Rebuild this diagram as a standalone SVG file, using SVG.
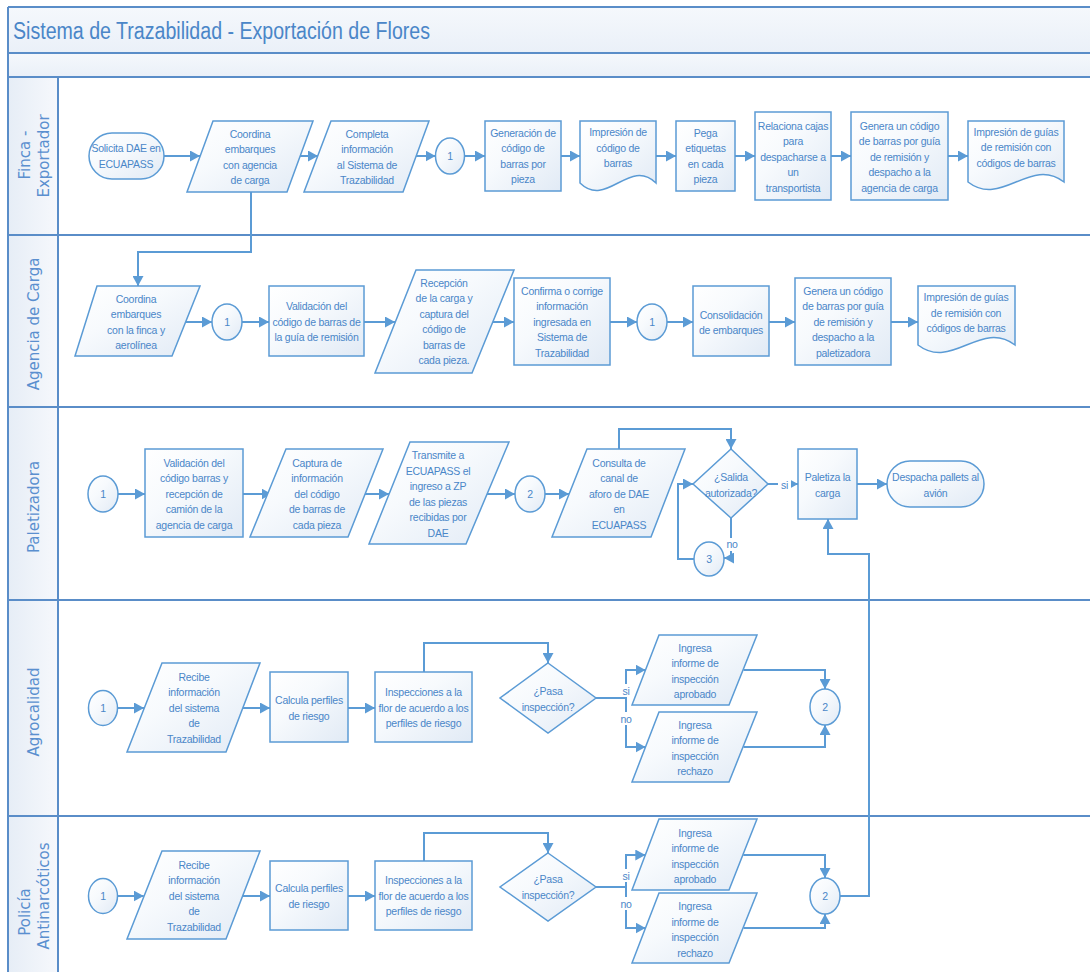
<svg xmlns="http://www.w3.org/2000/svg" width="1090" height="972" viewBox="0 0 1090 972">
<defs>
<linearGradient id="g" x1="0" y1="0" x2="1" y2="1"><stop offset="0" stop-color="#ffffff"/><stop offset="0.4" stop-color="#f7fafd"/><stop offset="1" stop-color="#e1eaf5"/></linearGradient>
<linearGradient id="lg" x1="0" y1="0" x2="1" y2="0"><stop offset="0" stop-color="#e6edf6"/><stop offset="1" stop-color="#f6f8fc"/></linearGradient>
<linearGradient id="hg" x1="0" y1="0" x2="0" y2="1"><stop offset="0" stop-color="#f5f8fc"/><stop offset="1" stop-color="#eaf0f8"/></linearGradient>
<marker id="arr" viewBox="0 0 10 10" refX="10" refY="5" markerWidth="10" markerHeight="11" markerUnits="userSpaceOnUse" orient="auto" preserveAspectRatio="none"><path d="M0,0 L10,5 L0,10 z" fill="#5b9bd5"/></marker>
<style>
.s{fill:url(#g);stroke:#5b9bd5;stroke-width:1.5}
.t{font-family:"Liberation Sans",Arial,sans-serif;font-size:10.5px;fill:#4a86c8;text-anchor:middle;letter-spacing:-0.25px}
.c{fill:none;stroke:#5b9bd5;stroke-width:2;marker-end:url(#arr)}
.l{fill:none;stroke:#5b9bd5;stroke-width:2}
.ln{stroke:#5a8dc8;stroke-width:2;fill:none}
.lt{font-family:"DejaVu Sans",Verdana,sans-serif;font-size:15px;fill:#5a8fcf;text-anchor:middle}
.bg{fill:#ffffff}
</style>
</defs>
<rect x="0" y="0" width="1090" height="972" fill="#ffffff"/>
<g id="frame">
<rect x="8" y="7" width="1082" height="46" fill="url(#hg)"/>
<rect x="8" y="53" width="1082" height="24" fill="url(#hg)"/>
<rect x="8" y="77" width="50" height="895" fill="url(#lg)"/>
<path class="ln" d="M8,7 H1090 M8,53 H1090 M8,77 H1090 M8,235 H1090 M8,407 H1090 M8,600 H1090 M8,816 H1090 M8,7 V972 M58,77 V972"/>
<text x="13" y="39" font-family="Liberation Sans,Arial,sans-serif" font-size="23" fill="#4a86c8" textLength="417" lengthAdjust="spacingAndGlyphs">Sistema de Trazabilidad - Exportación de Flores</text>
</g>
<g id="lane-labels">
<text class="lt" transform="translate(30,155) rotate(-90)">Finca -</text>
<text class="lt" transform="translate(49,156) rotate(-90)">Exportador</text>
<text class="lt" transform="translate(39,324) rotate(-90)">Agencia de Carga</text>
<text class="lt" transform="translate(39,507) rotate(-90)">Paletizadora</text>
<text class="lt" transform="translate(39,712) rotate(-90)">Agrocalidad</text>
<text class="lt" transform="translate(30,912) rotate(-90)">Policía</text>
<text class="lt" transform="translate(49,896) rotate(-90)">Antinarcóticos</text>
</g>
<g id="connectors">
<path class="c" d="M164,156 H200"/>
<path class="c" d="M300,156 H318"/>
<path class="c" d="M416,156 H435.5"/>
<path class="c" d="M464.5,156 H485"/>
<path class="c" d="M561,156 H580"/>
<path class="c" d="M656,156 H676"/>
<path class="c" d="M735,156 H755"/>
<path class="c" d="M831,156 H851"/>
<path class="c" d="M948,156 H968"/>
<path class="c" d="M251,192 V252 H138 V286"/>
<path class="c" d="M185.6,322 H212"/>
<path class="c" d="M242,322 H269"/>
<path class="c" d="M364,322 H395"/>
<path class="c" d="M493,322 H514"/>
<path class="c" d="M610,322 H637"/>
<path class="c" d="M667,322 H693"/>
<path class="c" d="M769,322 H795"/>
<path class="c" d="M891,322 H918"/>
<path class="c" d="M118,494 H145"/>
<path class="c" d="M243,494 H271.6"/>
<path class="c" d="M364.6,494 H389"/>
<path class="c" d="M487,494 H515"/>
<path class="c" d="M545,494 H569"/>
<path class="c" d="M619,449 V429 H731 V449"/>
<path class="c" d="M768,484 H798"/>
<path class="c" d="M857,484 H887"/>
<path class="c" d="M731,518 V558 H724"/>
<path class="c" d="M694,559 H678 V484 H693"/>
<path class="c" d="M840,896 H869 V554 H828 V519"/>
<path class="c" d="M118,708 H144"/>
<path class="c" d="M242.3,708 H270"/>
<path class="c" d="M348,708 H375"/>
<path class="c" d="M424,672 V643 H548 V663"/>
<path class="l" d="M596,698 H626"/>
<path class="c" d="M626,698 V670 H645.5"/>
<path class="c" d="M626,698 V747 H645.5"/>
<path class="c" d="M743.5,670 H825 V689"/>
<path class="c" d="M743.5,747 H825 V725"/>
<path class="c" d="M118,896 H143.7"/>
<path class="c" d="M241.7,896 H270"/>
<path class="c" d="M348,896 H375"/>
<path class="c" d="M424,861 V833 H548 V853"/>
<path class="l" d="M596,887 H626"/>
<path class="c" d="M626,887 V855 H645.3"/>
<path class="c" d="M626,887 V928 H645.5"/>
<path class="c" d="M743.3,855 H825 V878"/>
<path class="c" d="M743.5,928 H825 V914"/>
<rect class="bg" x="778" y="478" width="13" height="13"/>
<text class="t" x="784.5" y="488.5">si</text>
<rect class="bg" x="725" y="538" width="14" height="13"/>
<text class="t" x="732" y="548">no</text>
<rect class="bg" x="620" y="684" width="12" height="13"/>
<text class="t" x="626" y="694.5">si</text>
<rect class="bg" x="618" y="712" width="16" height="13"/>
<text class="t" x="626" y="722.5">no</text>
<rect class="bg" x="620" y="869" width="12" height="13"/>
<text class="t" x="626" y="879.5">si</text>
<rect class="bg" x="618" y="897" width="16" height="13"/>
<text class="t" x="626" y="907.5">no</text>
</g>
<g id="n-solicita"><rect class="s" x="89" y="133" width="75" height="46" rx="23"/><text class="t" y="152"><tspan x="126">Solicita DAE en</tspan><tspan x="126" dy="15.5">ECUAPASS</tspan></text></g>
<g id="n-coordina1"><polygon class="s" points="213,121 313,121 287,192 187,192"/><text class="t" y="137.5"><tspan x="250">Coordina</tspan><tspan x="250" dy="15.5">embarques</tspan><tspan x="250" dy="15.5">con agencia</tspan><tspan x="250" dy="15.5">de carga</tspan></text></g>
<g id="n-completa"><polygon class="s" points="331,121 429,121 403,192 304,192"/><text class="t" y="137.5"><tspan x="367">Completa</tspan><tspan x="367" dy="15.5">información</tspan><tspan x="367" dy="15.5">al Sistema de</tspan><tspan x="367" dy="15.5">Trazabilidad</tspan></text></g>
<g id="n-c1a"><ellipse class="s" cx="450" cy="156" rx="14.5" ry="18"/><text class="t" x="450" y="160">1</text></g>
<g id="n-generacion"><rect class="s" x="485" y="121" width="76" height="70"/><text class="t" y="136.5"><tspan x="523">Generación de</tspan><tspan x="523" dy="15.5">código de</tspan><tspan x="523" dy="15.5">barras por</tspan><tspan x="523" dy="15.5">pieza</tspan></text></g>
<g id="n-impresion1"><path class="s" d="M580,121 H656 V183 C629.4,157 606.6,209 580,183 Z"/><text class="t" y="136.3"><tspan x="618">Impresión de</tspan><tspan x="618" dy="15.5">código de</tspan><tspan x="618" dy="15.5">barras</tspan></text></g>
<g id="n-pega"><rect class="s" x="676" y="121" width="59" height="70"/><text class="t" y="136.5"><tspan x="705.5">Pega</tspan><tspan x="705.5" dy="15.5">etiquetas</tspan><tspan x="705.5" dy="15.5">en cada</tspan><tspan x="705.5" dy="15.5">pieza</tspan></text></g>
<g id="n-relaciona"><rect class="s" x="755" y="112" width="76" height="88"/><text class="t" y="129.8"><tspan x="793">Relaciona cajas</tspan><tspan x="793" dy="15.5">para</tspan><tspan x="793" dy="15.5">despacharse a</tspan><tspan x="793" dy="15.5">un</tspan><tspan x="793" dy="15.5">transportista</tspan></text></g>
<g id="n-genera1"><rect class="s" x="851" y="112" width="97" height="88"/><text class="t" y="129.8"><tspan x="899.5">Genera un código</tspan><tspan x="899.5" dy="15.5">de barras por guía</tspan><tspan x="899.5" dy="15.5">de remisión y</tspan><tspan x="899.5" dy="15.5">despacho a la</tspan><tspan x="899.5" dy="15.5">agencia de carga</tspan></text></g>
<g id="n-impresion2"><path class="s" d="M968,121 H1064 V182 C1030.4,156 1001.6,208 968,182 Z"/><text class="t" y="135.8"><tspan x="1016">Impresión de guías</tspan><tspan x="1016" dy="15.5">de remisión con</tspan><tspan x="1016" dy="15.5">códigos de barras</tspan></text></g>
<g id="n-coordina2"><polygon class="s" points="97,286 200,286 172,356 75,356"/><text class="t" y="302.5"><tspan x="136">Coordina</tspan><tspan x="136" dy="15.5">embarques</tspan><tspan x="136" dy="15.5">con la finca y</tspan><tspan x="136" dy="15.5">aerolínea</tspan></text></g>
<g id="n-c1b"><ellipse class="s" cx="227" cy="322" rx="15" ry="18"/><text class="t" x="227" y="326">1</text></g>
<g id="n-validacion1"><rect class="s" x="269" y="286" width="95" height="70"/><text class="t" y="310.3"><tspan x="316.5">Validación del</tspan><tspan x="316.5" dy="15.5">código de barras de</tspan><tspan x="316.5" dy="15.5">la guía de remisión</tspan></text></g>
<g id="n-recepcion"><polygon class="s" points="416,270 514,270 472,373 375,373"/><text class="t" y="286.5"><tspan x="444">Recepción</tspan><tspan x="444" dy="15.5">de la carga y</tspan><tspan x="444" dy="15.5">captura del</tspan><tspan x="444" dy="15.5">código de</tspan><tspan x="444" dy="15.5">barras de</tspan><tspan x="444" dy="15.5">cada pieza.</tspan></text></g>
<g id="n-confirma"><rect class="s" x="514" y="278" width="96" height="87"/><text class="t" y="294.8"><tspan x="562">Confirma o corrige</tspan><tspan x="562" dy="15.5">información</tspan><tspan x="562" dy="15.5">ingresada en</tspan><tspan x="562" dy="15.5">Sistema de</tspan><tspan x="562" dy="15.5">Trazabilidad</tspan></text></g>
<g id="n-c1c"><ellipse class="s" cx="652" cy="322" rx="15" ry="18"/><text class="t" x="652" y="326">1</text></g>
<g id="n-consolidacion"><rect class="s" x="693" y="286" width="76" height="70"/><text class="t" y="318.5"><tspan x="731">Consolidación</tspan><tspan x="731" dy="15.5">de embarques</tspan></text></g>
<g id="n-genera2"><rect class="s" x="795" y="278" width="96" height="87"/><text class="t" y="294.8"><tspan x="843">Genera un código</tspan><tspan x="843" dy="15.5">de barras por guía</tspan><tspan x="843" dy="15.5">de remisión y</tspan><tspan x="843" dy="15.5">despacho a la</tspan><tspan x="843" dy="15.5">paletizadora</tspan></text></g>
<g id="n-impresion3"><path class="s" d="M918,286 H1015 V345 C981,319 952,371 918,345 Z"/><text class="t" y="301.3"><tspan x="966">Impresión de guías</tspan><tspan x="966" dy="15.5">de remisión con</tspan><tspan x="966" dy="15.5">códigos de barras</tspan></text></g>
<g id="n-c1d"><ellipse class="s" cx="103" cy="494" rx="15" ry="18"/><text class="t" x="103" y="498">1</text></g>
<g id="n-validacion2"><rect class="s" x="145" y="449" width="98" height="88"/><text class="t" y="466.8"><tspan x="194">Validación del</tspan><tspan x="194" dy="15.5">código barras y</tspan><tspan x="194" dy="15.5">recepción de</tspan><tspan x="194" dy="15.5">camión de la</tspan><tspan x="194" dy="15.5">agencia de carga</tspan></text></g>
<g id="n-captura"><polygon class="s" points="286,449 383,449 348,537 250,537"/><text class="t" y="466.8"><tspan x="317">Captura de</tspan><tspan x="317" dy="15.5">información</tspan><tspan x="317" dy="15.5">del código</tspan><tspan x="317" dy="15.5">de barras de</tspan><tspan x="317" dy="15.5">cada pieza</tspan></text></g>
<g id="n-transmite"><polygon class="s" points="410,442 509,442 466,544 369,544"/><text class="t" y="459"><tspan x="438">Transmite a</tspan><tspan x="438" dy="15.5">ECUAPASS el</tspan><tspan x="438" dy="15.5">ingreso a ZP</tspan><tspan x="438" dy="15.5">de las piezas</tspan><tspan x="438" dy="15.5">recibidas por</tspan><tspan x="438" dy="15.5">DAE</tspan></text></g>
<g id="n-c2a"><ellipse class="s" cx="530" cy="494" rx="15" ry="18"/><text class="t" x="530" y="498">2</text></g>
<g id="n-consulta"><polygon class="s" points="587,449 685,449 651,537 552,537"/><text class="t" y="466.8"><tspan x="619">Consulta de</tspan><tspan x="619" dy="15.5">canal de</tspan><tspan x="619" dy="15.5">aforo de DAE</tspan><tspan x="619" dy="15.5">en</tspan><tspan x="619" dy="15.5">ECUAPASS</tspan></text></g>
<g id="n-salida"><polygon class="s" points="731,449 768,484 731,518 693,484"/><text class="t" y="481"><tspan x="731">¿Salida</tspan><tspan x="731" dy="15.5">autorizada?</tspan></text></g>
<g id="n-c3"><ellipse class="s" cx="709" cy="559" rx="15" ry="17"/><text class="t" x="709" y="563">3</text></g>
<g id="n-paletiza"><rect class="s" x="798" y="449" width="59" height="70"/><text class="t" y="481"><tspan x="827.5">Paletiza la</tspan><tspan x="827.5" dy="15.5">carga</tspan></text></g>
<g id="n-despacha"><rect class="s" x="887" y="461" width="97" height="46" rx="23"/><text class="t" y="481"><tspan x="935.5">Despacha pallets al</tspan><tspan x="935.5" dy="15.5">avión</tspan></text></g>
<g id="n-c1e"><ellipse class="s" cx="103" cy="708" rx="14.5" ry="17.5"/><text class="t" x="103" y="712">1</text></g>
<g id="n-recibe1"><polygon class="s" points="162,663 260,663 226,752 127,752"/><text class="t" y="680.8"><tspan x="194">Recibe</tspan><tspan x="194" dy="15.5">información</tspan><tspan x="194" dy="15.5">del sistema</tspan><tspan x="194" dy="15.5">de</tspan><tspan x="194" dy="15.5">Trazabilidad</tspan></text></g>
<g id="n-calcula1"><rect class="s" x="270" y="672" width="78" height="70"/><text class="t" y="704"><tspan x="309">Calcula perfiles</tspan><tspan x="309" dy="15.5">de riesgo</tspan></text></g>
<g id="n-inspecciones1"><rect class="s" x="375" y="672" width="97" height="70"/><text class="t" y="696.3"><tspan x="423.5">Inspecciones a la</tspan><tspan x="423.5" dy="15.5">flor de acuerdo a los</tspan><tspan x="423.5" dy="15.5">perfiles de riesgo</tspan></text></g>
<g id="n-pasa1"><polygon class="s" points="548,663 596,698 548,733 500,698"/><text class="t" y="695"><tspan x="548">¿Pasa</tspan><tspan x="548" dy="15.5">inspección?</tspan></text></g>
<g id="n-aprobado1"><polygon class="s" points="659,635 757,635 729,705 632,705"/><text class="t" y="651.5"><tspan x="695">Ingresa</tspan><tspan x="695" dy="15.5">informe de</tspan><tspan x="695" dy="15.5">inspección</tspan><tspan x="695" dy="15.5">aprobado</tspan></text></g>
<g id="n-rechazo1"><polygon class="s" points="659,712 757,712 729,782 632,782"/><text class="t" y="728.5"><tspan x="695">Ingresa</tspan><tspan x="695" dy="15.5">informe de</tspan><tspan x="695" dy="15.5">inspección</tspan><tspan x="695" dy="15.5">rechazo</tspan></text></g>
<g id="n-c2b"><ellipse class="s" cx="825" cy="707" rx="15" ry="18"/><text class="t" x="825" y="711">2</text></g>
<g id="n-c1f"><ellipse class="s" cx="103" cy="896" rx="14.5" ry="17.5"/><text class="t" x="103" y="900">1</text></g>
<g id="n-recibe2"><polygon class="s" points="162,851 260,851 226,939 127,939"/><text class="t" y="868.8"><tspan x="194">Recibe</tspan><tspan x="194" dy="15.5">información</tspan><tspan x="194" dy="15.5">del sistema</tspan><tspan x="194" dy="15.5">de</tspan><tspan x="194" dy="15.5">Trazabilidad</tspan></text></g>
<g id="n-calcula2"><rect class="s" x="270" y="861" width="78" height="69"/><text class="t" y="892"><tspan x="309">Calcula perfiles</tspan><tspan x="309" dy="15.5">de riesgo</tspan></text></g>
<g id="n-inspecciones2"><rect class="s" x="375" y="861" width="97" height="69"/><text class="t" y="884.3"><tspan x="423.5">Inspecciones a la</tspan><tspan x="423.5" dy="15.5">flor de acuerdo a los</tspan><tspan x="423.5" dy="15.5">perfiles de riesgo</tspan></text></g>
<g id="n-pasa2"><polygon class="s" points="548,853 596,887 548,921 500,887"/><text class="t" y="883"><tspan x="548">¿Pasa</tspan><tspan x="548" dy="15.5">inspección?</tspan></text></g>
<g id="n-aprobado2"><polygon class="s" points="659,819 757,819 729,890 632,890"/><text class="t" y="836.5"><tspan x="695">Ingresa</tspan><tspan x="695" dy="15.5">informe de</tspan><tspan x="695" dy="15.5">inspección</tspan><tspan x="695" dy="15.5">aprobado</tspan></text></g>
<g id="n-rechazo2"><polygon class="s" points="659,893 757,893 729,963 632,963"/><text class="t" y="910"><tspan x="695">Ingresa</tspan><tspan x="695" dy="15.5">informe de</tspan><tspan x="695" dy="15.5">inspección</tspan><tspan x="695" dy="15.5">rechazo</tspan></text></g>
<g id="n-c2c"><ellipse class="s" cx="825" cy="896" rx="15" ry="18"/><text class="t" x="825" y="900">2</text></g>
</svg>
